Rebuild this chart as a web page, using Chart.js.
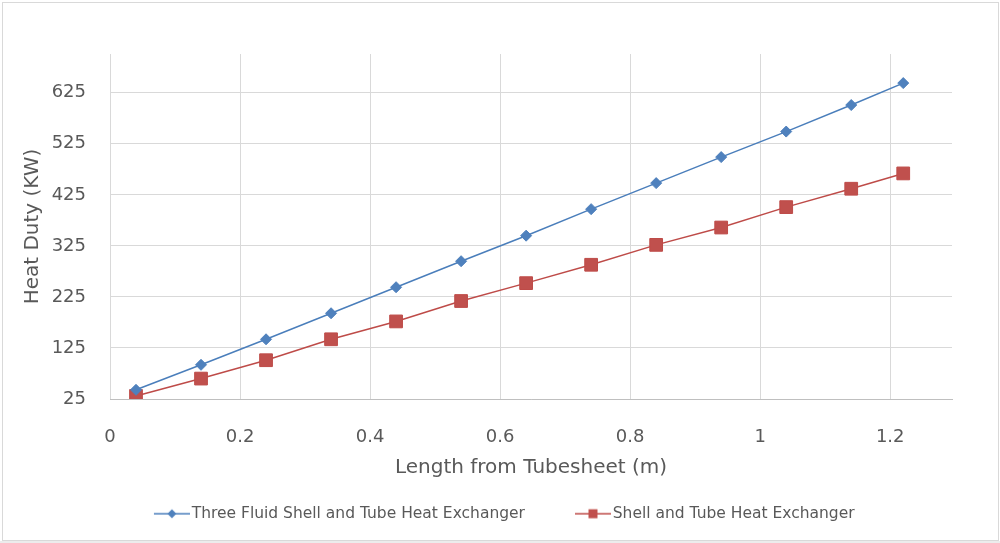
<!DOCTYPE html>
<html>
<head>
<meta charset="utf-8">
<script src="https://cdn.jsdelivr.net/npm/chart.js@4.4.0/dist/chart.umd.min.js"></script>
<style>
  html, body { margin: 0; padding: 0; background: #ffffff; }
  #wrap { position: relative; width: 1000px; height: 543px; }
  canvas { display: block; }
</style>
</head>
<body>
<div id="wrap"><canvas id="chart" width="1000" height="543"></canvas></div>
<script>
// Distance from the tubesheet (m)
const lengths = [0.04, 0.14, 0.24, 0.34, 0.44, 0.54, 0.64, 0.74, 0.84, 0.94, 1.04, 1.14, 1.22];
// Heat duty (kW) of each exchanger type
const threeFluidDuty = [43, 92, 142, 193, 244, 295, 345, 397, 448, 499, 549, 601, 644];
const shellTubeDuty  = [31, 65, 101, 142, 177, 217, 252, 288, 327, 361, 401, 437, 467];
// Axis ticks
const xTicks = [0, 0.2, 0.4, 0.6, 0.8, 1, 1.2];
const yTicks = [25, 125, 225, 325, 425, 525, 625];

const seriesNames = ['Three Fluid Shell and Tube Heat Exchanger', 'Shell and Tube Heat Exchanger'];

const BLUE_LINE = '#4A7EBB', BLUE_FILL = '#4F81BD';
const RED_LINE = '#BE4B48', RED_FILL = '#C0504D';
const TEXT = '#595959';
const GRID = '#d9d9d9';
const FONT = "'DejaVu Sans', sans-serif";

const PLOT_LEFT = 110;     // left edge of the plotting area
const PAD_LEFT = 16.5;     // chart padding on the left, also centres the legend row
const LEGEND_BOX = 70;     // legend box width reserved for each swatch
const ICON_W = 82;         // swatch image width (overhangs the box by 6px on each side)

// Legend swatch: a short line with the series marker in its middle,
// drawn at the right end of a wider transparent image so that the
// items are spaced apart and the text sits close to the swatch.
function swatch(lineColor, fillColor, shape) {
  const w = ICON_W, h = 14, x0 = w - 36;
  const c = document.createElement('canvas');
  c.width = w; c.height = h;
  const g = c.getContext('2d');
  g.strokeStyle = lineColor; g.lineWidth = 1.5;
  g.beginPath(); g.moveTo(x0, h / 2); g.lineTo(w, h / 2); g.stroke();
  const cx = x0 + 18, cy = h / 2;
  g.fillStyle = fillColor;
  g.beginPath();
  if (shape === 'diamond') {
    g.moveTo(cx, cy - 4.5); g.lineTo(cx + 4.5, cy); g.lineTo(cx, cy + 4.5); g.lineTo(cx - 4.5, cy);
  } else {
    g.rect(cx - 4.5, cy - 4.5, 9, 9);
  }
  g.closePath(); g.fill();
  return c;
}
const legendIcons = [
  swatch(BLUE_LINE, BLUE_FILL, 'diamond'),
  swatch(RED_LINE, RED_FILL, 'square')
];

const frame = {
  id: 'frame',
  beforeDraw(chart) {
    const ctx = chart.ctx;
    ctx.save();
    ctx.fillStyle = '#ffffff';
    ctx.fillRect(0, 0, chart.width, chart.height);
    ctx.fillStyle = '#ececec';
    ctx.fillRect(0, 541, chart.width, chart.height - 541);
    ctx.strokeStyle = GRID;
    ctx.lineWidth = 1;
    ctx.strokeRect(2.5, 2.5, 996, 538);
    ctx.restore();
  }
};

new Chart(document.getElementById('chart'), {
  type: 'line',
  plugins: [frame],
  data: {
    datasets: [
      {
        label: seriesNames[0],
        data: lengths.map((x, i) => ({ x, y: threeFluidDuty[i] })),
        borderColor: BLUE_LINE,
        backgroundColor: BLUE_FILL,
        borderWidth: 1.5,
        pointStyle: 'rectRot',
        pointRadius: 5.5,
        pointBorderColor: BLUE_FILL,
        pointBackgroundColor: BLUE_FILL,
        pointBorderWidth: 1,
        tension: 0
      },
      {
        label: seriesNames[1],
        data: lengths.map((x, i) => ({ x, y: shellTubeDuty[i] })),
        borderColor: RED_LINE,
        backgroundColor: RED_FILL,
        borderWidth: 1.5,
        pointStyle: 'rect',
        pointRadius: 9,
        pointBorderColor: RED_LINE,
        pointBackgroundColor: RED_FILL,
        pointBorderWidth: 1,
        tension: 0
      }
    ]
  },
  options: {
    responsive: false,
    animation: false,
    events: [],
    layout: { padding: { top: 54, right: 48, bottom: 11.5, left: PAD_LEFT } },
    plugins: {
      tooltip: { enabled: false },
      legend: {
        position: 'bottom',
        labels: {
          usePointStyle: true,
          pointStyleWidth: LEGEND_BOX,
          padding: 10,
          color: TEXT,
          font: { family: FONT, size: 15.5 },
          generateLabels(chart) {
            return chart.data.datasets.map((ds, i) => ({
              text: ds.label,
              pointStyle: legendIcons[i],
              fillStyle: ds.backgroundColor,
              strokeStyle: ds.borderColor,
              lineWidth: 0,
              fontColor: TEXT,
              hidden: false,
              datasetIndex: i
            }));
          }
        }
      }
    },
    scales: {
      x: {
        type: 'linear',
        min: 0,
        max: 1.295,
        afterBuildTicks(scale) { scale.ticks = xTicks.map(v => ({ value: v })); },
        afterFit(scale) { scale.height = 97; },
        grid: { color: GRID, lineWidth: 1, drawTicks: false },
        border: { color: '#bfbfbf', width: 1 },
        ticks: {
          padding: 28,
          color: TEXT,
          font: { family: FONT, size: 18 },
          maxRotation: 0,
          callback: v => String(Math.round(v * 10) / 10)
        },
        title: {
          display: true,
          text: 'Length from Tubesheet (m)',
          color: TEXT,
          font: { family: FONT, size: 20 },
          padding: { top: 0, bottom: 16.5 }
        }
      },
      y: {
        type: 'linear',
        min: 25,
        max: 701,
        afterBuildTicks(scale) { scale.ticks = yTicks.map(v => ({ value: v })); },
        afterFit(scale) { scale.width = PLOT_LEFT - PAD_LEFT; },
        grid: { color: GRID, lineWidth: 1, drawTicks: false },
        border: { display: false },
        ticks: {
          padding: 24,
          color: TEXT,
          font: { family: FONT, size: 18 }
        },
        title: {
          display: true,
          text: 'Heat Duty (KW)',
          color: TEXT,
          font: { family: FONT, size: 20 },
          padding: { top: 4.5, bottom: 0 }
        }
      }
    }
  }
});
</script>
</body>
</html>
